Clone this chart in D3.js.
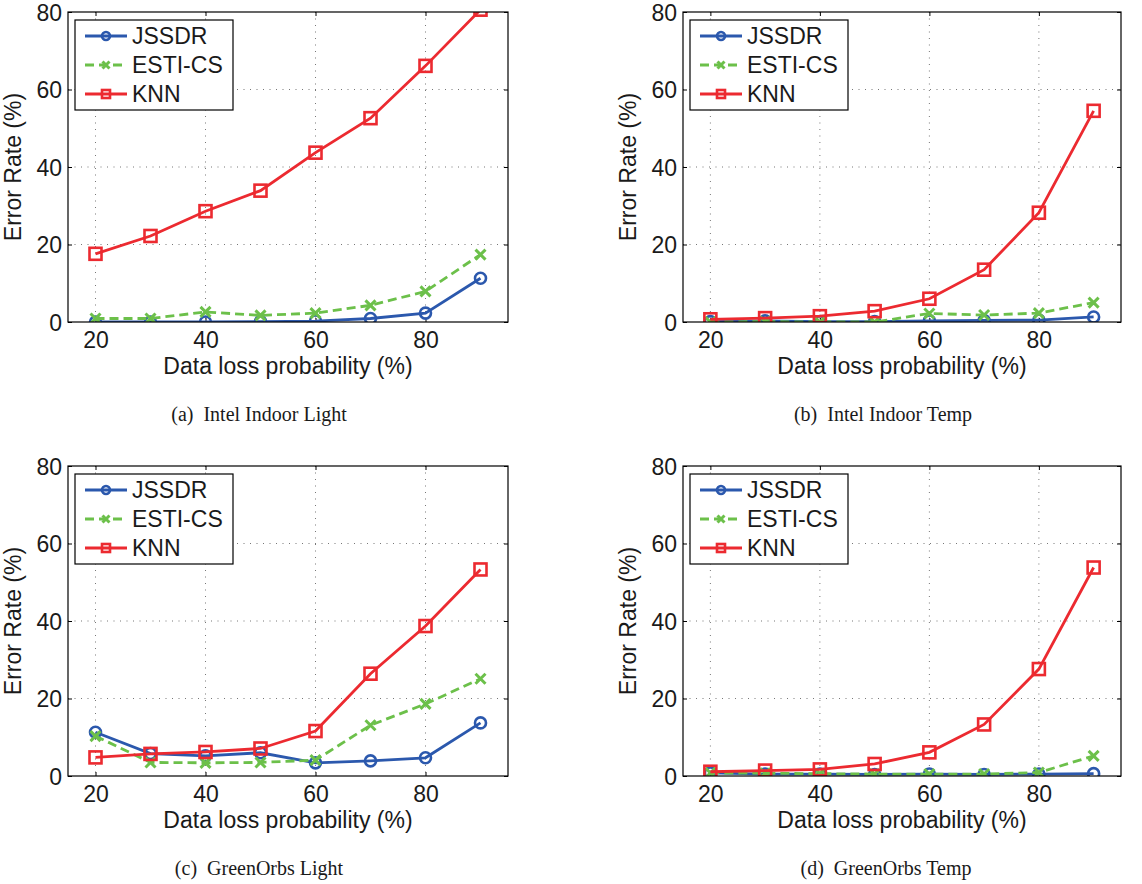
<!DOCTYPE html>
<html>
  <head>
    <meta charset="utf-8">
    <script src="https://d3js.org/d3.v7.min.js"></script>
    <style>
      body { margin: 0; background: #fff; }
      .tick text { font-family: 'Liberation Sans', Arial, sans-serif; font-size: 23px; fill: #1a1a1a; }
      .tick line { stroke: #000; }
      .domain { display: none; }
      .grid line { stroke: #777; stroke-width: 1; stroke-dasharray: 1,5.5; }
      .axis-label { font-family: 'Liberation Sans', Arial, sans-serif; font-size: 23px; fill: #1a1a1a; text-anchor: middle; }
      .legend-text { font-family: 'Liberation Sans', Arial, sans-serif; font-size: 23px; fill: #1a1a1a; }
      .caption { font-family: 'Liberation Serif', 'Times New Roman', serif; font-size: 20px; fill: #1a1a1a; text-anchor: middle; }
    </style>
  </head>
  <body>
    <svg width="1142" height="884"></svg>
    <script>
      // x values and ticks
      const lossProb = [20, 30, 40, 50, 60, 70, 80, 90];
      const xTicks = [20, 40, 60, 80];
      const yTicks = [0, 20, 40, 60, 80];
      const methods = ['JSSDR', 'ESTI-CS', 'KNN'];
      const captions = ['(a)\u00a0 Intel Indoor Light', '(b)\u00a0 Intel Indoor Temp',
                        '(c)\u00a0 GreenOrbs Light', '(d)\u00a0 GreenOrbs Temp'];

      // error rates (%)
      const intelLightJSSDR = [0, 0, 0, 0.1, 0.25, 0.9, 2.3, 11.3];
      const intelLightESTI  = [0.9, 0.9, 2.6, 1.7, 2.3, 4.3, 7.9, 17.4];
      const intelLightKNN   = [17.6, 22.2, 28.6, 33.9, 43.7, 52.6, 66.1, 80.6];

      const intelTempJSSDR = [0.1, 0.3, 0.1, 0.1, 0.3, 0.4, 0.5, 1.3];
      const intelTempESTI  = [0, 0.1, 0, 0, 2.2, 1.8, 2.3, 5.0];
      const intelTempKNN   = [0.7, 1.0, 1.5, 2.8, 6.0, 13.5, 28.2, 54.5];

      const orbsLightJSSDR = [11.3, 5.8, 5.2, 6.0, 3.4, 3.9, 4.7, 13.7];
      const orbsLightESTI  = [10.3, 3.5, 3.4, 3.5, 4.1, 13.1, 18.6, 25.1];
      const orbsLightKNN   = [4.8, 5.7, 6.2, 7.1, 11.6, 26.4, 38.7, 53.3];

      const orbsTempJSSDR = [0.8, 0.5, 0.5, 0.4, 0.5, 0.4, 0.5, 0.6];
      const orbsTempESTI  = [0.8, 0.7, 0.6, 0.5, 0.5, 0.5, 0.9, 5.2];
      const orbsTempKNN   = [1.1, 1.4, 1.7, 3.1, 6.1, 13.3, 27.6, 53.8];

      const panelData = [
        [intelLightJSSDR, intelLightESTI, intelLightKNN],
        [intelTempJSSDR, intelTempESTI, intelTempKNN],
        [orbsLightJSSDR, orbsLightESTI, orbsLightKNN],
        [orbsTempJSSDR, orbsTempESTI, orbsTempKNN]
      ];

      const colors = ['#2b58ad', '#6cc04a', '#ec2a30'];
      const dashes = [null, '9,5', null];
      const markers = ['circle', 'cross', 'square'];

      // panel layout: plot-area box and caption position
      const panels = [
        { left: 68,  top: 12,  width: 440, height: 310, capX: 259, capY: 421 },
        { left: 683, top: 12,  width: 438, height: 310, capX: 883, capY: 421 },
        { left: 68,  top: 466, width: 440, height: 310, capX: 259, capY: 875 },
        { left: 683, top: 466, width: 438, height: 310, capX: 886, capY: 875 }
      ];

      const svg = d3.select('svg');

      function drawMarker(sel, type, size, color) {
        if (type === 'circle') {
          sel.append('circle').attr('r', size / 2)
            .attr('fill', 'none').attr('stroke', color).attr('stroke-width', 2.6);
        } else if (type === 'square') {
          sel.append('rect').attr('x', -size / 2).attr('y', -size / 2)
            .attr('width', size).attr('height', size)
            .attr('fill', 'none').attr('stroke', color).attr('stroke-width', 2.6);
        } else {
          const h = size / 2;
          sel.append('path').attr('d', `M${-h},${-h}L${h},${h}M${-h},${h}L${h},${-h}`)
            .attr('stroke', color).attr('stroke-width', 3).attr('fill', 'none');
        }
      }

      panels.forEach((p, i) => {
        const g = svg.append('g').attr('transform', `translate(${p.left},${p.top})`);

        const x = d3.scaleLinear().domain([15, 95]).range([0, p.width]);
        const y = d3.scaleLinear().domain([0, 80]).range([p.height, 0]);

        // dotted grid
        g.append('g').attr('class', 'grid')
          .selectAll('line').data(xTicks).join('line')
            .attr('x1', d => x(d)).attr('x2', d => x(d))
            .attr('y1', 0).attr('y2', p.height);
        g.append('g').attr('class', 'grid')
          .selectAll('line').data(yTicks.slice(1, -1)).join('line')
            .attr('y1', d => y(d)).attr('y2', d => y(d))
            .attr('x1', 0).attr('x2', p.width);

        // axes, ticks pointing inward
        g.append('g').attr('transform', `translate(0,${p.height})`)
          .call(d3.axisBottom(x).tickValues(xTicks).tickSize(-4).tickPadding(10));
        g.append('g')
          .call(d3.axisLeft(y).tickValues(yTicks).tickSize(-4).tickPadding(6))
          .selectAll('.tick text').attr('dy', '0.36em');
        g.append('g')
          .call(d3.axisTop(x).tickValues(xTicks).tickSize(-4).tickFormat(''));
        g.append('g').attr('transform', `translate(${p.width},0)`)
          .call(d3.axisRight(y).tickValues(yTicks).tickSize(-4).tickFormat(''));

        // clip for data
        const clipId = 'clip' + i;
        g.append('clipPath').attr('id', clipId)
          .append('rect').attr('width', p.width).attr('height', p.height);

        const plot = g.append('g').attr('clip-path', `url(#${clipId})`);
        const line = d3.line().x((d, k) => x(lossProb[k])).y(d => y(d));

        panelData[i].forEach((vals, m) => {
          plot.append('path').datum(vals)
            .attr('d', line)
            .attr('fill', 'none')
            .attr('stroke', colors[m])
            .attr('stroke-width', 2.8)
            .attr('stroke-dasharray', dashes[m]);
          plot.selectAll(null).data(vals).join('g')
            .attr('transform', (d, k) => `translate(${x(lossProb[k])},${y(d)})`)
            .each(function () { drawMarker(d3.select(this), markers[m], m === 1 ? 10 : (m === 0 ? 11 : 12), colors[m]); });
        });

        // box
        g.append('rect').attr('width', p.width).attr('height', p.height)
          .attr('fill', 'none').attr('stroke', '#000').attr('stroke-width', 1.2);

        // axis labels
        g.append('text').attr('class', 'axis-label')
          .attr('x', p.width / 2).attr('y', p.height + 52)
          .text('Data loss probability (%)');
        g.append('text').attr('class', 'axis-label')
          .attr('transform', `translate(${-47},${p.height / 2}) rotate(-90)`)
          .text('Error Rate (%)');

        // legend
        const lg = g.append('g').attr('transform', 'translate(7,8)');
        lg.append('rect').attr('width', 158).attr('height', 90)
          .attr('fill', '#fff').attr('stroke', '#000').attr('stroke-width', 1.2);
        methods.forEach((name, m) => {
          const row = lg.append('g').attr('transform', `translate(0,${16 + m * 29})`);
          row.append('line').attr('x1', 10).attr('x2', 52)
            .attr('stroke', colors[m]).attr('stroke-width', 2.8)
            .attr('stroke-dasharray', dashes[m]);
          const mk = row.append('g').attr('transform', 'translate(31,0)');
          drawMarker(mk, markers[m], m === 1 ? 7 : 8, colors[m]);
          row.append('text').attr('class', 'legend-text')
            .attr('x', 57).attr('dy', '0.35em').text(name);
        });

        // caption
        svg.append('text').attr('class', 'caption')
          .attr('x', p.capX).attr('y', p.capY)
          .text(captions[i]);
      });
    </script>
  </body>
</html>
